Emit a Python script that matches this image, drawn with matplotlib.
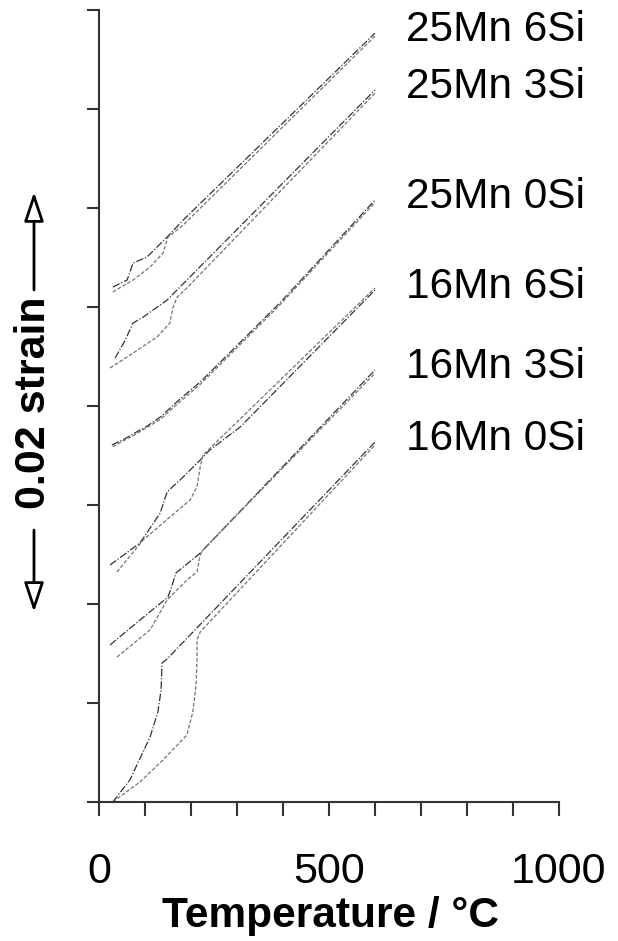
import matplotlib
matplotlib.use("Agg")
import matplotlib.pyplot as plt

plt.rcParams['font.family'] = ['Liberation Sans', 'DejaVu Sans']

# dilatometry curves: temperature (C) and strain (offset per alloy)
labels = ["25Mn 6Si", "25Mn 3Si", "25Mn 0Si", "16Mn 6Si", "16Mn 3Si", "16Mn 0Si"]

t_25mn6si_a = [30, 61, 74, 104, 148, 183, 600]
s_25mn6si_a = [0.02601, 0.02636, 0.02722, 0.02752, 0.02853, 0.02939, 0.03883]
t_25mn6si_b = [30, 74, 111, 139, 150, 183, 600]
s_25mn6si_b = [0.02576, 0.02636, 0.02702, 0.02772, 0.02853, 0.02914, 0.03868]

t_25mn3si_a = [35, 57, 74, 96, 148, 191, 600]
s_25mn3si_a = [0.02242, 0.02333, 0.02419, 0.02449, 0.02535, 0.02636, 0.03596]
t_25mn3si_b = [24, 74, 126, 154, 161, 170, 191, 600]
s_25mn3si_b = [0.02192, 0.02267, 0.02348, 0.02419, 0.02500, 0.02550, 0.02596, 0.03580]

t_25mn0si_a = [28, 55, 78, 105, 133, 155, 176, 198, 220, 393, 600]
s_25mn0si_a = [0.01803, 0.01833, 0.01864, 0.01899, 0.01944, 0.01990, 0.02035, 0.02078, 0.02121, 0.02520, 0.03040]
t_25mn0si_b = [30, 78, 133, 176, 220, 393, 600]
s_25mn0si_b = [0.01795, 0.01855, 0.01932, 0.02022, 0.02109, 0.02510, 0.03028]

t_16mn6si_a = [24, 89, 133, 148, 176, 220, 241, 307, 600]
s_16mn6si_a = [0.01197, 0.01308, 0.01459, 0.01566, 0.01626, 0.01727, 0.01778, 0.01894, 0.02586]
t_16mn6si_b = [39, 96, 154, 198, 213, 220, 226, 600]
s_16mn6si_b = [0.01162, 0.01323, 0.01439, 0.01525, 0.01591, 0.01692, 0.01752, 0.02596]

t_16mn3si_a = [24, 89, 150, 159, 167, 220, 600]
s_16mn3si_a = [0.00793, 0.00919, 0.01035, 0.01096, 0.01156, 0.01257, 0.02182]
t_16mn3si_b = [39, 111, 148, 191, 213, 220, 226, 600]
s_16mn3si_b = [0.00732, 0.00869, 0.01020, 0.01121, 0.01162, 0.01247, 0.01273, 0.02166]

t_16mn0si_a = [30, 67, 111, 128, 135, 137, 148, 600]
s_16mn0si_a = [0.0, 0.00111, 0.00328, 0.00455, 0.00566, 0.00702, 0.00722, 0.01818]
t_16mn0si_b = [30, 89, 139, 191, 204, 211, 213, 213, 220, 600]
s_16mn0si_b = [0.0, 0.00101, 0.00212, 0.00338, 0.00455, 0.00591, 0.00717, 0.00818, 0.00859, 0.01803]

curves = [
    (t_25mn6si_a, s_25mn6si_a, t_25mn6si_b, s_25mn6si_b),
    (t_25mn3si_a, s_25mn3si_a, t_25mn3si_b, s_25mn3si_b),
    (t_25mn0si_a, s_25mn0si_a, t_25mn0si_b, s_25mn0si_b),
    (t_16mn6si_a, s_16mn6si_a, t_16mn6si_b, s_16mn6si_b),
    (t_16mn3si_a, s_16mn3si_a, t_16mn3si_b, s_16mn3si_b),
    (t_16mn0si_a, s_16mn0si_a, t_16mn0si_b, s_16mn0si_b),
]

fig = plt.figure(figsize=(6.18, 9.41), dpi=100)
ax = fig.add_axes([99 / 618, 1 - 802 / 941, 460 / 618, 792 / 941])

for lab, (ta, sa, tb, sb) in zip(labels, curves):
    ax.plot(ta, sa, color="0.2", lw=0.9, ls=(0, (6, 1.5, 1, 1.5)))
    ax.plot(tb, sb, color="0.45", lw=0.9, ls=(0, (3, 1.5)))
    ax.annotate(lab, xy=(ta[-1], sa[-1]), xytext=(22, 2), textcoords="offset points",
                fontsize=30.5, va="center", ha="left", annotation_clip=False)

ax.set_xlim(0, 1000)
ax.set_ylim(0, 0.04)
ax.set_xticks(range(0, 1001, 100))
ax.set_xticklabels(["0", "", "", "", "", "500", "", "", "", "", "1000"])
ax.set_yticks([i * 0.005 for i in range(9)])
ax.set_yticklabels([])

for s in ["top", "right"]:
    ax.spines[s].set_visible(False)
for s in ["left", "bottom"]:
    ax.spines[s].set_color("0.2")
    ax.spines[s].set_linewidth(1.5)
ax.tick_params(axis="x", direction="out", length=10, width=1.5, color="0.2",
               labelsize=31, pad=26)
ax.tick_params(axis="y", direction="out", length=8.5, width=1.5, color="0.2")

fig.text(330 / 618, 1 - 927 / 941, "Temperature / °C", fontsize=30.5,
         fontweight="bold", ha="center", va="baseline")

# strain scale bar on the left
fig.text(34 / 618, 1 - 403 / 941, "0.02 strain", fontsize=31, fontweight="bold",
         rotation=90, ha="center", va="center")
arrow = dict(arrowstyle="-|>,head_length=18,head_width=6", fc="white", ec="black",
             lw=2, mutation_scale=1, shrinkA=0, shrinkB=0)
fig.add_artist(plt.Annotation("", xy=(34 / 618, 1 - 192 / 941), xytext=(34 / 618, 1 - 290 / 941),
                              xycoords="figure fraction", arrowprops=arrow))
fig.add_artist(plt.Annotation("", xy=(34 / 618, 1 - 612 / 941), xytext=(34 / 618, 1 - 530 / 941),
                              xycoords="figure fraction", arrowprops=arrow))

fig.savefig("out.png", dpi=100)
